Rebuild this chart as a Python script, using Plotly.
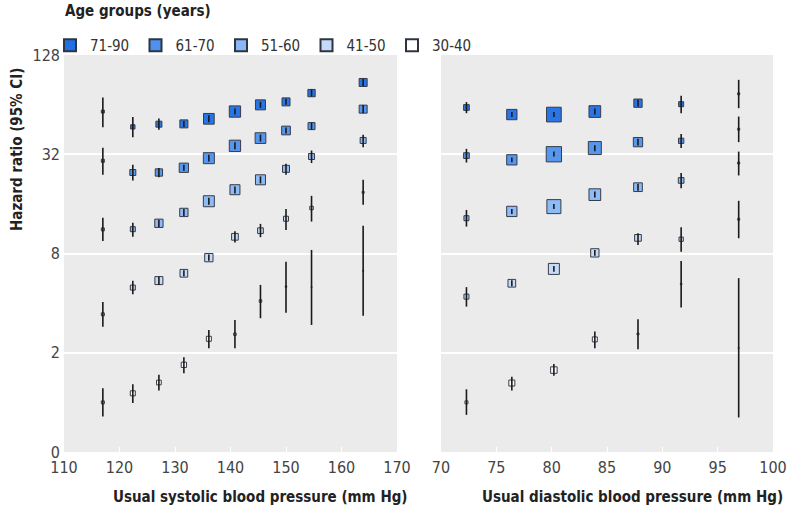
import plotly.graph_objects as go

# ---------------- data ----------------
groups = ["71-90", "61-70", "51-60", "41-50", "30-40"]
colors = ["#1f6fe5", "#4f92ee", "#8ab8f6", "#c4dbf7", "#ffffff"]

sbp_x = [117.0, 122.4, 127.1, 131.6, 136.1, 140.8, 145.4, 150.0, 154.6, 163.9]
sbp_hr = {
    "71-90": [58.1, 46.9, 48.7, 48.9, 52.5, 58.1, 63.8, 66.5, 75.2, 87.2],
    "61-70": [29.2, 24.8, 24.8, 26.5, 30.3, 36.0, 40.1, 44.6, 47.4, 60.1],
    "51-60": [11.2, 11.24, 12.2, 14.2, 16.6, 19.5, 22.4, 26.1, 31.0, 38.8],
    "41-50": [3.42, 4.97, 5.48, 6.07, 7.55, 10.1, 11.0, 13.0, 15.1, 18.8],
    "30-40": [1.0, 1.135, 1.32, 1.69, 2.43, 2.59, 4.12, 5.04, 5.0, 6.28],
}
sbp_lo = {
    "71-90": [46.7, 40.6, 45.0, 46.9, 50.0, 55.7, 61.2, 63.8, 71.6, 83.0],
    "61-70": [24.0, 22.2, 23.2, 25.4, 28.9, 34.3, 38.2, 42.7, 45.1, 56.8],
    "51-60": [9.54, 10.1, 11.6, 13.5, 15.8, 18.5, 21.3, 24.0, 28.3, 35.3],
    "41-50": [2.88, 4.53, 5.16, 5.83, 7.24, 9.32, 10.05, 11.1, 12.5, 15.8],
    "30-40": [0.82, 0.99, 1.18, 1.50, 2.13, 2.13, 3.24, 3.50, 2.95, 3.35],
}
sbp_hi = {
    "71-90": [70.7, 53.8, 52.7, 51.0, 55.1, 60.6, 66.5, 69.4, 79.0, 91.5],
    "61-70": [35.0, 27.6, 26.4, 27.6, 31.8, 37.8, 42.1, 46.5, 49.8, 63.6],
    "51-60": [13.2, 12.3, 12.8, 14.9, 17.4, 20.4, 23.5, 28.0, 33.7, 42.0],
    "41-50": [4.07, 5.46, 5.79, 6.33, 7.88, 10.9, 12.1, 14.9, 17.9, 22.4],
    "30-40": [1.22, 1.29, 1.47, 1.88, 2.75, 3.16, 5.16, 7.14, 8.41, 11.8],
}
sbp_size = {
    "71-90": [3, 4.3, 6, 8, 10.7, 11.3, 10, 8, 7.3, 8],
    "61-70": [3, 6, 7.3, 9.3, 11, 11.3, 10.7, 8.7, 7, 8],
    "51-60": [3, 5, 8.3, 8.3, 11, 10, 10, 7, 6, 6],
    "41-50": [3, 5, 8, 7.7, 8.3, 6.7, 5.7, 5, 3.5, 2],
    "30-40": [3, 5, 4.7, 5.3, 5, 2.5, 2.5, 1.5, 1, 1],
}

dbp_x = [72.3, 76.4, 80.2, 83.9, 87.8, 91.7, 96.9]
dbp_hr = {
    "71-90": [61.5, 55.7, 55.7, 58.1, 65.3, 64.4, 74.4],
    "61-70": [31.4, 29.6, 32.0, 34.9, 37.9, 38.6, 45.4],
    "51-60": [13.1, 14.4, 15.4, 18.2, 20.2, 22.2, 28.3],
    "41-50": [4.38, 5.28, 6.45, 8.07, 9.95, 9.77, 12.9],
    "30-40": [1.0, 1.31, 1.57, 2.41, 2.60, 5.23, 2.14],
}
dbp_lo = {
    "71-90": [56.8, 53.8, 53.8, 55.7, 62.3, 56.8, 60.9],
    "61-70": [28.5, 28.6, 31.0, 33.4, 36.1, 34.9, 37.9],
    "51-60": [11.65, 13.9, 14.9, 17.5, 19.2, 19.9, 23.8],
    "41-50": [3.81, 5.07, 6.19, 7.74, 9.02, 8.21, 9.9],
    "30-40": [0.84, 1.18, 1.45, 2.13, 2.10, 3.76, 0.81],
}
dbp_hi = {
    "71-90": [66.3, 57.7, 57.7, 60.6, 68.6, 72.4, 90.5],
    "61-70": [34.5, 30.6, 33.2, 36.3, 39.8, 42.5, 54.2],
    "51-60": [14.7, 14.9, 16.0, 19.0, 21.2, 24.6, 33.2],
    "41-50": [5.0, 5.51, 6.73, 8.41, 10.6, 11.55, 16.7],
    "30-40": [1.2, 1.43, 1.71, 2.69, 3.19, 7.21, 5.67],
}
dbp_size = {
    "71-90": [5.7, 10.3, 14.7, 11.7, 8.3, 5, 2],
    "61-70": [5.7, 10.3, 15.3, 13, 9.3, 5.3, 2],
    "51-60": [5, 10.3, 14, 11.7, 8.7, 5.7, 2],
    "41-50": [5, 7.7, 11, 8.3, 6.7, 4.3, 2],
    "30-40": [3, 6, 6.5, 5, 2, 1.5, 1],
}

y_tickvals = [0.5, 2, 8, 32, 128]
y_ticktext = ["0", "2", "8", "32", "128"]

# ---------------- figure ----------------
FONT = "DejaVu Sans Condensed, Liberation Sans Narrow, sans-serif"
EDGE = "#2e3440"
fig = go.Figure()

for g, c in zip(groups, colors):
    fig.add_trace(go.Scatter(
        x=[None], y=[None], mode="markers", name=g,
        marker=dict(symbol="square", size=13, color=c, line=dict(color=EDGE, width=1)),
        showlegend=True))

panels = [
    (sbp_x, sbp_hr, sbp_lo, sbp_hi, sbp_size, "x", "y"),
    (dbp_x, dbp_hr, dbp_lo, dbp_hi, dbp_size, "x2", "y2"),
]
for xs, hr, lo, hi, sz, xa, ya in panels:
    for g, c in zip(groups, colors):
        fig.add_trace(go.Scatter(
            x=xs, y=hr[g], mode="markers", xaxis=xa, yaxis=ya, showlegend=False,
            marker=dict(symbol="square", size=sz[g], color=c, opacity=0.95,
                        line=dict(color=EDGE, width=1)),
            hoverinfo="skip"))
    lx, ly = [], []
    for g in groups:
        for xv, l, h in zip(xs, lo[g], hi[g]):
            lx += [xv, xv, None]
            ly += [l, h, None]
    fig.add_trace(go.Scatter(x=lx, y=ly, mode="lines", xaxis=xa, yaxis=ya,
                             showlegend=False, line=dict(color="#1a1a1a", width=1.6),
                             hoverinfo="skip"))

W, H = 790, 510
L, R, T, B = 64, 773, 55, 452          # px of plot area
def pxp(v):
    return (v - L) / (R - L)
def pyp(v):
    return (B - v) / (B - T)

yax = dict(type="log", range=[-0.30103, 2.10721], tickvals=y_tickvals, ticktext=y_ticktext,
           showgrid=True, gridcolor="white", gridwidth=2, zeroline=False,
           ticks="", showline=False, domain=[0, 1], automargin=False, ticklabelstandoff=3,
           tickfont=dict(size=16, color="#444444"))
xax = dict(showgrid=False, zeroline=False, ticks="inside", ticklen=5, tickcolor="white",
           tickwidth=1, showline=False, automargin=False, ticklabelstandoff=4,
           tickfont=dict(size=16, color="#444444"))

fig.update_layout(
    width=W, height=H,
    margin=dict(l=L, r=W - R, t=T, b=H - B, autoexpand=False),
    paper_bgcolor="white", plot_bgcolor="#ebebeb",
    font=dict(family=FONT, size=15, color="#333333"),
    xaxis=dict(xax, range=[110, 170], dtick=10, domain=[0, pxp(397)], anchor="y"),
    xaxis2=dict(xax, range=[70, 100], dtick=5, domain=[pxp(441), 1], anchor="y2"),
    yaxis=dict(yax, anchor="x"),
    yaxis2=dict(yax, anchor="x2", showticklabels=False),
    legend=dict(orientation="h", x=pxp(50), y=pyp(29), xanchor="left", yanchor="top",
                font=dict(size=15, color="#333333"), entrywidth=40.5, entrywidthmode="pixels",
                itemsizing="constant", bgcolor="rgba(0,0,0,0)"),
    annotations=[
        dict(text="<b>Age groups (years)</b>", x=pxp(63), y=pyp(11), xref="paper", yref="paper",
             xanchor="left", yanchor="middle", showarrow=False,
             font=dict(size=15, color="#222222")),
        dict(text="<b>Hazard ratio (95% CI)</b>", textangle=-90, x=pxp(17), y=pyp(150),
             xref="paper", yref="paper", xanchor="center", yanchor="middle", showarrow=False,
             font=dict(size=15, color="#222222")),
        dict(text="<b>Usual systolic blood pressure (mm Hg)</b>", x=pxp(410), y=pyp(497),
             xref="paper", yref="paper", xanchor="right", yanchor="middle", showarrow=False,
             font=dict(size=15, color="#222222")),
        dict(text="<b>Usual diastolic blood pressure (mm Hg)</b>", x=pxp(785), y=pyp(497),
             xref="paper", yref="paper", xanchor="right", yanchor="middle", showarrow=False,
             font=dict(size=15, color="#222222")),
    ],
)

fig.write_html("out.html", config={"displayModeBar": False},
               post_script="document.body.style.margin='0';")
